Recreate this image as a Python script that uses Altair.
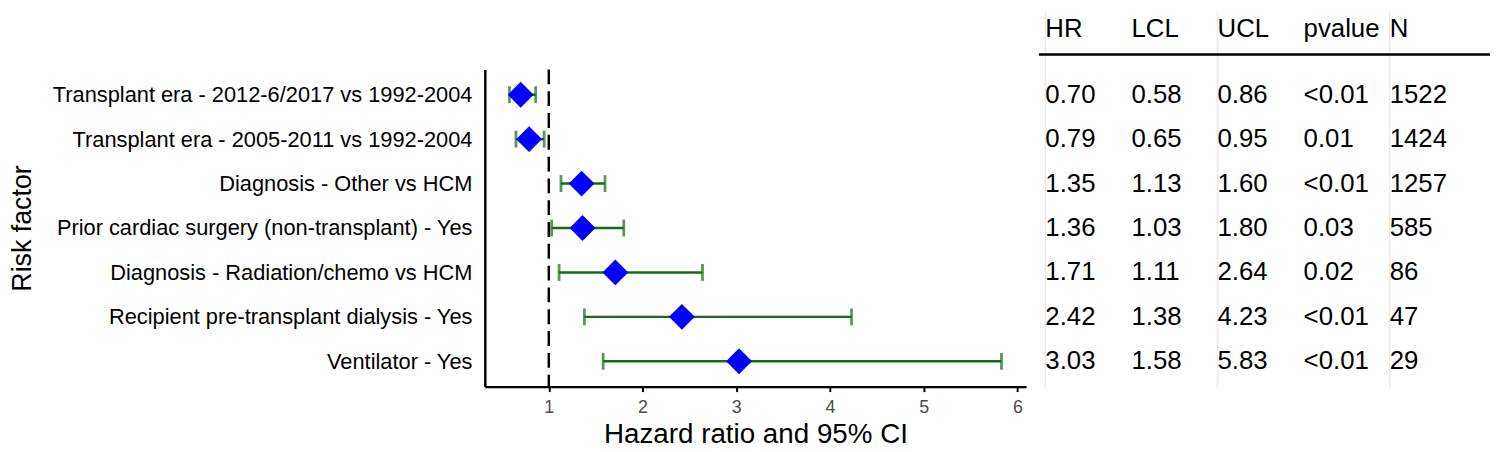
import altair as alt
import pandas as pd

factors = [
    "Transplant era - 2012-6/2017 vs 1992-2004",
    "Transplant era - 2005-2011 vs 1992-2004",
    "Diagnosis - Other vs HCM",
    "Prior cardiac surgery (non-transplant) - Yes",
    "Diagnosis - Radiation/chemo vs HCM",
    "Recipient pre-transplant dialysis - Yes",
    "Ventilator - Yes",
]
hr = [0.70, 0.79, 1.35, 1.36, 1.71, 2.42, 3.03]
lcl = [0.58, 0.65, 1.13, 1.03, 1.11, 1.38, 1.58]
ucl = [0.86, 0.95, 1.60, 1.80, 2.64, 4.23, 5.83]
pvalue = ["<0.01", "0.01", "<0.01", "0.03", "0.02", "<0.01", "<0.01"]
n_obs = [1522, 1424, 1257, 585, 86, 47, 29]
columns = ["HR", "LCL", "UCL", "pvalue", "N"]
ref_value = [1]
x_ticks = [1, 2, 3, 4, 5, 6]
x_domain = [0.3175, 6.0925]

FONT = "Liberation Sans"
GREEN = "#15691b"
BLUE = "#0000ff"

df = pd.DataFrame({"factor": factors, "hr": hr, "lcl": lcl, "ucl": ucl})

yaxis = alt.Axis(title="Risk factor", labelFontSize=22, titleFontSize=27)
yenc = alt.Y(
    "factor:N",
    sort=factors,
    scale=alt.Scale(type="point", padding=0.57, domain=factors),
    axis=yaxis,
)

xscale = alt.Scale(domain=x_domain, nice=False, zero=False)
xaxis = alt.Axis(
    values=x_ticks,
    format="d",
    title="Hazard ratio and 95% CI",
    labelFontSize=18,
    titleFontSize=28,
)

base = alt.Chart(df)

ref_line = alt.Chart(pd.DataFrame({"ref": ref_value})).mark_rule(
    color="black", strokeWidth=2.5, strokeDash=[15, 7]
).encode(x=alt.X("ref:Q", scale=xscale, axis=xaxis))

ci = base.mark_rule(color=GREEN, strokeWidth=2.5).encode(
    x=alt.X("lcl:Q", scale=xscale, axis=xaxis), x2="ucl:Q", y=yenc
)
cap_lo = base.mark_tick(color=GREEN, size=17, thickness=2.8, orient="vertical").encode(
    x=alt.X("lcl:Q", scale=xscale, axis=xaxis), y=yenc
)
cap_hi = base.mark_tick(color=GREEN, size=17, thickness=2.8, orient="vertical").encode(
    x=alt.X("ucl:Q", scale=xscale, axis=xaxis), y=yenc
)
pts = base.mark_point(shape="diamond", filled=True, size=680, color=BLUE, opacity=1).encode(
    x=alt.X("hr:Q", scale=xscale, axis=xaxis), y=yenc
)

forest = alt.layer(ref_line, ci, cap_lo, cap_hi, pts).properties(width=546, height=320)

# table
rows = []
for i, f in enumerate(factors):
    vals = [f"{hr[i]:.2f}", f"{lcl[i]:.2f}", f"{ucl[i]:.2f}", pvalue[i], str(n_obs[i])]
    for c, v in zip(columns, vals):
        rows.append({"factor": f, "col": c, "txt": v})
tdf = pd.DataFrame(rows)

tx = alt.X(
    "col:N",
    sort=columns,
    scale=alt.Scale(type="point", domain=columns, padding=0.62, align=0.06),
    axis=None,
)
ty = alt.Y(
    "factor:N",
    sort=factors,
    scale=alt.Scale(type="point", padding=0.57, domain=factors),
    axis=None,
)

faint = alt.Chart(pd.DataFrame({"col": ["HR", "UCL", "N"]})).mark_rule(
    color="#ececec", strokeWidth=1.5
).encode(x=tx, y=alt.value(-59), y2=alt.value(321))

cells = alt.Chart(tdf).mark_text(
    align="left", baseline="middle", fontSize=26, font=FONT, color="black"
).encode(x=tx, y=ty, text="txt:N")

header = alt.Chart(pd.DataFrame({"col": columns})).mark_text(
    align="left", baseline="middle", fontSize=26, font=FONT, color="black"
).encode(x=tx, y=alt.value(-41), text="col:N")

underline = alt.Chart(pd.DataFrame({"col": ["HR"]})).mark_rule(
    color="black", strokeWidth=2.5
).encode(x=alt.value(0), x2=alt.value(455), y=alt.value(-15))

table = alt.layer(faint, cells, header, underline).properties(width=455, height=320)

chart = (
    alt.hconcat(forest, table, spacing=11)
    .properties(padding={"left": 0, "top": 0, "right": 0, "bottom": 0}, background="white")
    .configure(font=FONT)
    .configure_view(stroke=None)
    .configure_axis(
        labelFont=FONT,
        titleFont=FONT,
        titleFontWeight="normal",
        titleColor="black",
        domainColor="black",
        domainWidth=2.5,
        grid=False,
        maxExtent=600,
    )
    .configure_axisY(
        titleFontSize=27,
        titlePadding=16,
        labelFontSize=22,
        labelColor="black",
        labelPadding=13,
        labelLimit=0,
        ticks=False,
    )
    .configure_axisX(
        titleFontSize=28,
        titlePadding=4,
        labelFontSize=18,
        labelColor="#4d4d4d",
        labelPadding=7,
        tickSize=5,
        tickColor="black",
        tickWidth=2,
    )
)

chart.save("out.html", embed_options={"renderer": "svg", "actions": False})
